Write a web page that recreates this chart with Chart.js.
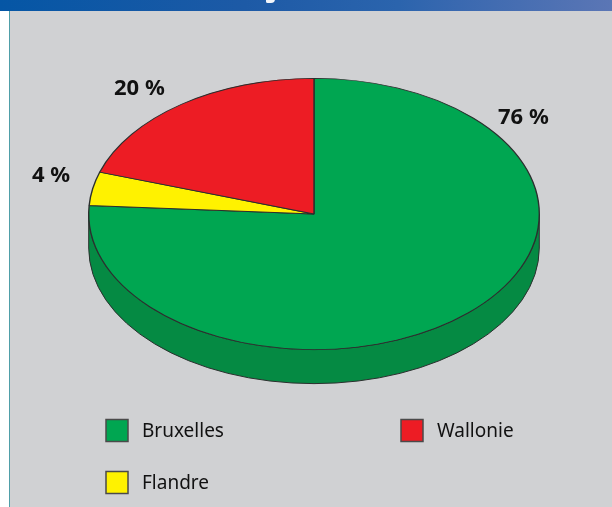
<!DOCTYPE html>
<html>
<head>
<meta charset="utf-8">
<style>
  html, body { margin: 0; padding: 0; background: #fff; }
  #page { position: relative; width: 612px; height: 507px; overflow: hidden; }
  #band { position: absolute; left: 0; top: 0; width: 612px; height: 11px;
          background: linear-gradient(90deg, #0556a5 0%, #1d5aa6 40%, #2b64ad 65%, #3a69b0 75%, #5b76b5 100%); }
  #tail { position: absolute; left: 266px; top: -1px; width: 9px; height: 4px;
          background: #f4f6fa; border-radius: 0 0 5px 2px; }
  #panel { position: absolute; left: 9px; top: 11px; width: 603px; height: 496px;
           background: #d0d1d3; border-left: 1px solid #4f9fa8; box-sizing: border-box; }
  canvas { position: absolute; left: 0; top: 0; }
</style>
<script src="https://cdn.jsdelivr.net/npm/chart.js@4"></script>
</head>
<body>
<div id="page">
  <div id="band"></div>
  <div id="tail"></div>
  <div id="panel"></div>
  <canvas id="pie" width="612" height="507"></canvas>
</div>
<script>
const regions = ['Bruxelles', 'Flandre', 'Wallonie'];
const shares = [76, 4, 20];
const topColours = ['#00a651', '#fff200', '#ed1c24'];
const sideColours = ['#058a43', '#c9bf00', '#b8151b'];

// Tilted disc: the pie is flattened vertically and extruded downward.
const TILT = 0.602;
const DEPTH = 34;
const CENTRE_Y = 214;
const OUTLINE = '#2b2f2e';
const LABEL_FONT = '"Noto Sans", "Open Sans", sans-serif';

const valueLabels = [
  { text: '76 %', x: 498, y: 118 },
  { text: '4 %', x: 32, y: 176 },
  { text: '20 %', x: 114, y: 89 }
];
const legendSlots = [
  { region: 0, x: 106, y: 419.5 },
  { region: 2, x: 401, y: 419.5 },
  { region: 1, x: 106, y: 471.5 }
];

function applyTilt(ctx, arc) {
  ctx.translate(arc.x, CENTRE_Y);
  ctx.scale(1, TILT);
  ctx.translate(-arc.x, -arc.y);
}

const tiltedDisc = {
  id: 'tiltedDisc',
  // The visible rim is the lower half of the outline, shifted down by DEPTH.
  beforeDatasetsDraw(chart) {
    const { ctx } = chart;
    const arcs = chart.getDatasetMeta(0).data;
    const { x, y, outerRadius: r } = arcs[0].getProps(['x', 'y', 'outerRadius'], true);
    ctx.save();
    ctx.beginPath();
    ctx.ellipse(x, CENTRE_Y + DEPTH, r, r * TILT, 0, 0, Math.PI);
    ctx.lineTo(x - r, CENTRE_Y);
    ctx.ellipse(x, CENTRE_Y, r, r * TILT, 0, Math.PI, 0, true);
    ctx.closePath();
    ctx.fillStyle = sideColours[0];
    ctx.fill();
    ctx.lineWidth = 1;
    ctx.strokeStyle = OUTLINE;
    ctx.stroke();
    ctx.restore();

    ctx.save();
    applyTilt(ctx, { x, y });
  },
  afterDatasetsDraw(chart) {
    const { ctx } = chart;
    ctx.restore();

    ctx.save();
    ctx.fillStyle = '#111';
    ctx.textBaseline = 'middle';
    ctx.font = '700 22px ' + LABEL_FONT;
    valueLabels.forEach(l => ctx.fillText(l.text, l.x, l.y));

    ctx.font = '400 19px ' + LABEL_FONT;
    legendSlots.forEach(s => {
      ctx.fillStyle = topColours[s.region];
      ctx.strokeStyle = '#4a4a4a';
      ctx.lineWidth = 1.5;
      ctx.fillRect(s.x, s.y, 22, 22);
      ctx.strokeRect(s.x, s.y, 22, 22);
      ctx.fillStyle = '#111';
      ctx.fillText(regions[s.region], s.x + 36, s.y + 12);
    });
    ctx.restore();
  }
};

new Chart(document.getElementById('pie'), {
  type: 'pie',
  data: {
    labels: regions,
    datasets: [{
      data: shares,
      backgroundColor: topColours,
      borderColor: OUTLINE,
      borderWidth: 1.4,
      borderAlign: 'center'
    }]
  },
  options: {
    responsive: false,
    animation: false,
    layout: { padding: { left: 88, right: 72, top: 27, bottom: 28 } },
    plugins: { legend: { display: false }, tooltip: { enabled: false } }
  },
  plugins: [tiltedDisc]
});
</script>
</body>
</html>
